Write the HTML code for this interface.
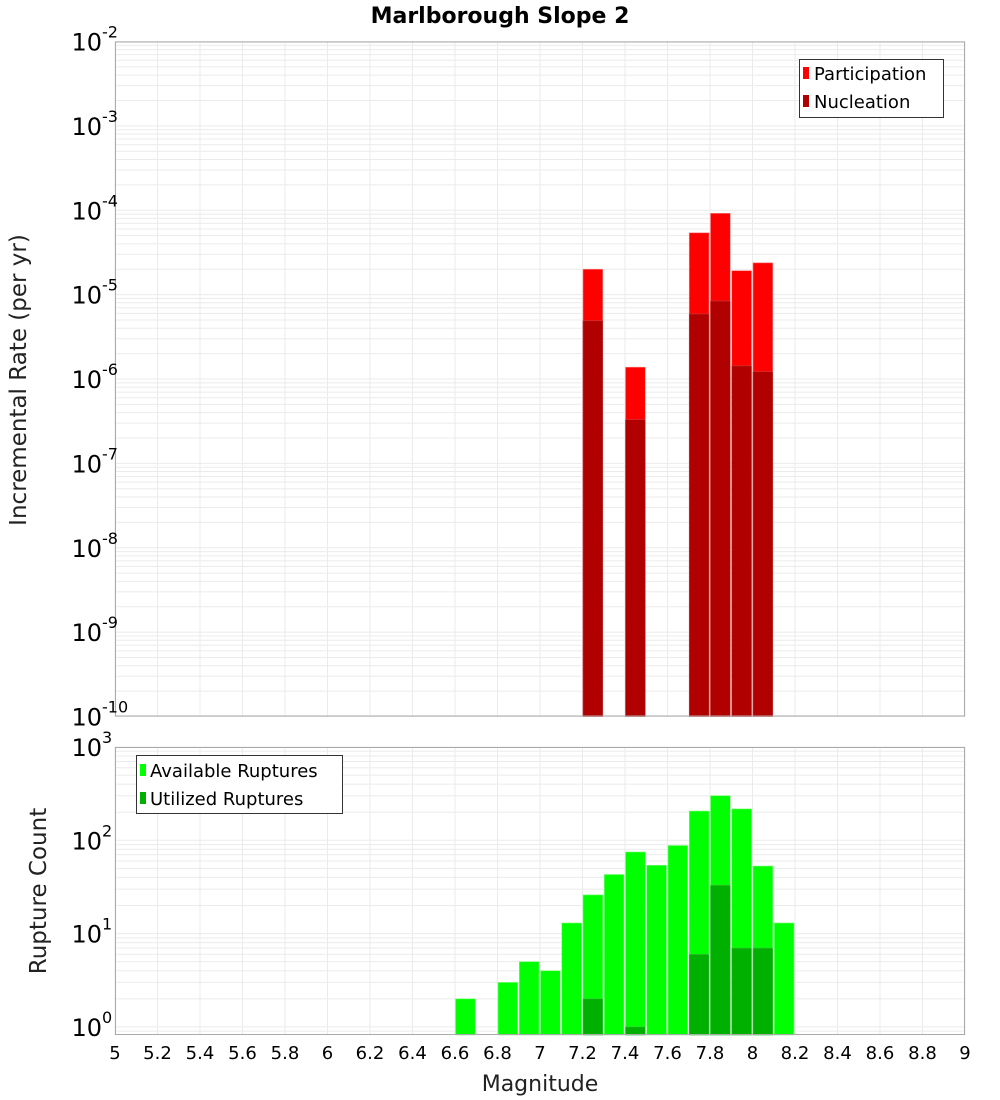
<!DOCTYPE html>
<html><head><meta charset="utf-8"><style>
body{margin:0;background:#fff;}
svg{display:block;font-family:"DejaVu Sans","Liberation Sans",sans-serif;}
</style></head><body>
<svg id="c" width="1000" height="1100" viewBox="0 0 1000 1100">
<text x="500" y="23" text-anchor="middle" font-size="22" font-weight="bold">Marlborough Slope 2</text>
<g id="top"></g>
<g id="bot"></g>
<text transform="translate(26,380) rotate(-90)" text-anchor="middle" font-size="23" fill="#222">Incremental Rate (per yr)</text>
<text transform="translate(46,891) rotate(-90)" text-anchor="middle" font-size="23" fill="#222">Rupture Count</text>
<text x="540" y="1091" text-anchor="middle" font-size="22" fill="#222">Magnitude</text>
<g>
<rect x="799.5" y="59.5" width="144" height="58" fill="#fff" stroke="#333"/>
<rect x="803" y="67" width="6" height="12" fill="#ff0000"/>
<text x="814" y="80" font-size="18">Participation</text>
<rect x="803" y="95" width="6" height="12" fill="#b00000"/>
<text x="814" y="108" font-size="18">Nucleation</text>
</g>
<g>
<rect x="136.5" y="755.5" width="206" height="58" fill="#fff" stroke="#333"/>
<rect x="140" y="764" width="6" height="12" fill="#00ff00"/>
<text x="150" y="777" font-size="18">Available Ruptures</text>
<rect x="140" y="792" width="6" height="12" fill="#00b000"/>
<text x="150" y="805" font-size="18">Utilized Ruptures</text>
</g>
</svg>
<script>
const rateMags=[7.2,7.4,7.7,7.8,7.9,8.0];
const participation=[2.0e-5,1.38e-6,5.4e-5,9.2e-5,1.92e-5,2.38e-5];
const nucleation=[4.9e-6,3.3e-7,5.9e-6,8.4e-6,1.43e-6,1.22e-6];
const countMags=[6.6,6.8,6.9,7.0,7.1,7.2,7.3,7.4,7.5,7.6,7.7,7.8,7.9,8.0,8.1];
const available=[2,3,5,4,13,26,43,75,54,88,206,301,217,53,13];
const utilMags=[7.2,7.4,7.7,7.8,7.9,8.0];
const utilized=[2,1,6,33,7,7];
const xTicks=[5,5.2,5.4,5.6,5.8,6,6.2,6.4,6.6,6.8,7,7.2,7.4,7.6,7.8,8,8.2,8.4,8.6,8.8,9];
const rateExps=[-2,-3,-4,-5,-6,-7,-8,-9,-10];
const countExps=[3,2,1,0];

const NS='http://www.w3.org/2000/svg';
const X0=115,X1=965;
const xs=m=>X0+(m-5)/4*(X1-X0);
function mk(p,tag,at){const e=document.createElementNS(NS,tag);for(const k in at)e.setAttribute(k,at[k]);p.appendChild(e);return e;}

function plot(g,top,bot,yTopExp,decPx,exps,bars){
  const ys=v=>top+(yTopExp-Math.log10(v))*decPx;
  mk(g,'rect',{x:X0,y:top,width:X1-X0,height:bot-top,fill:'#fff'});
  // minor/major horizontal grid
  for(let e=yTopExp-12;e<=yTopExp;e++){
    for(let k=1;k<10;k++){
      const y=ys(k*Math.pow(10,e));
      if(y<top||y>bot)continue;
      const l=mk(g,'line',{x1:X0,x2:X1,y1:y,y2:y,stroke:'#ebebeb','stroke-width':1});
      
      
    }
  }
  xTicks.forEach(t=>{
    const l=mk(g,'line',{x1:xs(t),x2:xs(t),y1:top,y2:bot,stroke:'#ebebeb','stroke-width':1});
    
    
  });
  bars.forEach(b=>{
    b.mags.forEach((m,i)=>{
      const y=Math.max(top,ys(b.vals[i]));
      const x=xs(m);
      const r=mk(g,'rect',{x:x+0.5,y:y,width:xs(m+0.1)-x-1.5,height:bot-y,fill:b.color,stroke:b.edge,'stroke-width':0.6});
      
      
    });
  });
  mk(g,'rect',{x:X0+0.5,y:top+0.5,width:X1-X0-1,height:bot-top-1,fill:'none',stroke:'#aaa'});
  exps.forEach(e=>{
    const y=ys(Math.pow(10,e));
    const t=mk(g,'text',{x:102,y:y+9,'text-anchor':'end','font-size':24});
    t.textContent='10';
    
    
    const s=mk(g,'text',{x:102,y:y-4,'font-size':16});
    s.textContent=String(e).replace('-','-');
    
    
  });
}
plot(document.getElementById('top'),41.5,716.5,-2,84.375,rateExps,[
  {mags:rateMags,vals:participation,color:'#ff0000',edge:'#ff8080',name:'participation'},
  {mags:rateMags,vals:nucleation,color:'#b00000',edge:'#c04040',name:'nucleation'}]);
plot(document.getElementById('bot'),747,1035,3,93.3,countExps,[
  {mags:countMags,vals:available,color:'#00ff00',edge:'#80ff80',name:'available'},
  {mags:utilMags,vals:utilized,color:'#00b000',edge:'#40c040',name:'utilized'}]);
const svg=document.getElementById('c');
xTicks.forEach(t=>{
  const e=mk(svg,'text',{x:xs(t),y:1059,'text-anchor':'middle','font-size':18});
  e.textContent=String(t);
  
  
});
</script>
</body></html>
